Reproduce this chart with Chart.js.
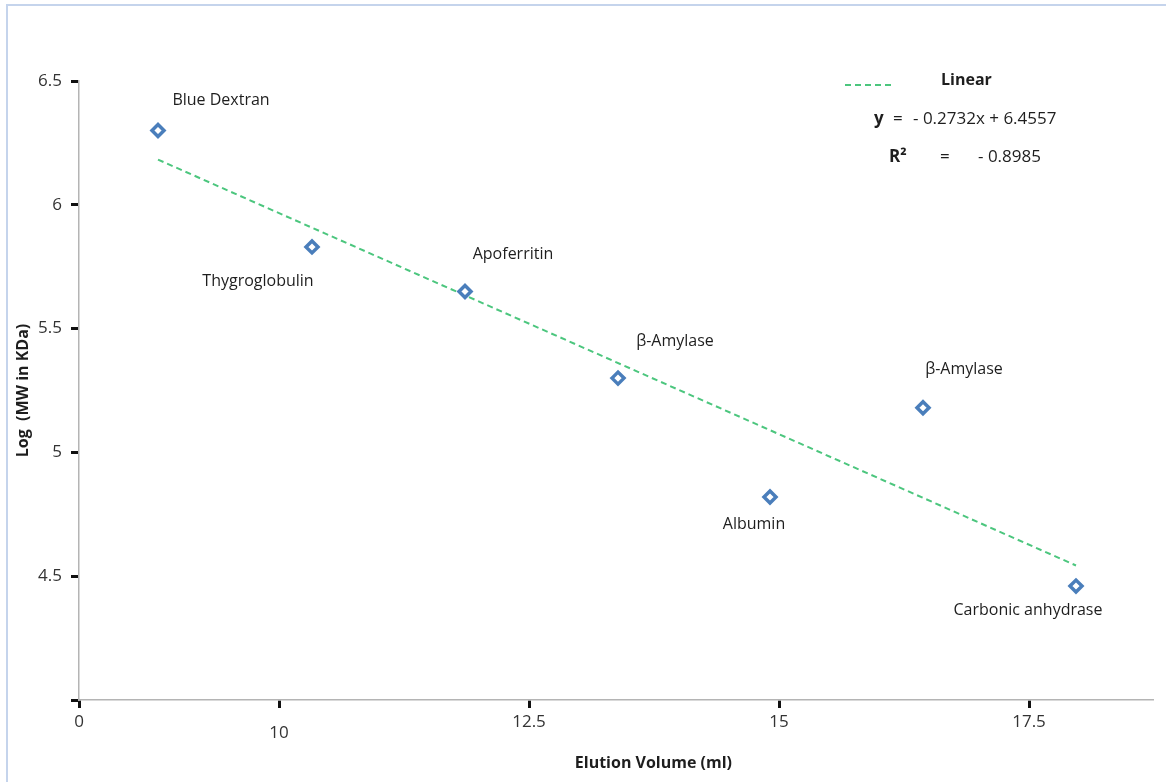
<!DOCTYPE html>
<html>
<head>
<meta charset="utf-8">
<title>Elution calibration</title>
<script src="https://cdn.jsdelivr.net/npm/chart.js@4/dist/chart.umd.min.js"></script>
<style>
  html, body { margin: 0; padding: 0; background: #ffffff; }
  #wrap { position: relative; width: 1166px; height: 782px; overflow: hidden; }
  #frame { position: absolute; left: 6px; top: 4px; right: -10px; bottom: -10px;
           border-top: 2px solid #c5d4ec; border-left: 2px solid #c5d4ec; }
  canvas { position: absolute; left: 0; top: 0; }
</style>
</head>
<body>
<div id="wrap">
  <div id="frame"></div>
  <canvas id="chart" width="1166" height="782"></canvas>
</div>
<script>
// Calibration proteins and their measured values
const proteins = ['Blue Dextran', 'Thygroglobulin', 'Apoferritin', 'β-Amylase', 'Albumin', 'β-Amylase', 'Carbonic anhydrase'];
const elutionVolume = [8.79, 10.33, 11.86, 13.39, 14.91, 16.44, 17.97];
const logMW = [6.30, 5.83, 5.65, 5.30, 4.82, 5.18, 4.46];

// Axis ticks
const xTickValues = [8, 10, 12.5, 15, 17.5];
const xTickLabels = ['0', '10', '12.5', '15', '17.5'];
const yTickValues = [4, 4.5, 5, 5.5, 6, 6.5];

// Linear fit (x = point number 1..n)
const fitSlope = -0.2732;
const fitIntercept = 6.4557;
const fitR2 = -0.8985;

// Where each protein name sits relative to its marker (px)
const labelOffsets = [[63, -30], [-54, 35], [48, -37], [57, -37], [-16, 27], [41, -38], [-48, 24]];

const FONT = "'Open Sans', 'DejaVu Sans', sans-serif";
const BLUE = '#4a7ebb';
const GREEN = '#4cc67e';

const points = proteins.map((_, i) => ({ x: elutionVolume[i], y: logMW[i] }));
const n = proteins.length;
const fitLine = [
  { x: elutionVolume[0], y: fitSlope * 1 + fitIntercept },
  { x: elutionVolume[n - 1], y: fitSlope * n + fitIntercept }
];

const pointLabels = {
  id: 'pointLabels',
  afterDatasetsDraw(chart) {
    const ctx = chart.ctx;
    const meta = chart.getDatasetMeta(0);
    ctx.save();
    ctx.font = '16px ' + FONT;
    ctx.fillStyle = '#1e1e1e';
    ctx.textAlign = 'center';
    ctx.textBaseline = 'middle';
    meta.data.forEach((el, i) => {
      const [dx, dy] = labelOffsets[i];
      ctx.fillText(proteins[i], el.x + dx, el.y + dy);
    });
    ctx.restore();
  }
};

const fitLegend = {
  id: 'fitLegend',
  afterDraw(chart) {
    const ctx = chart.ctx;
    ctx.save();
    // dashed sample
    ctx.strokeStyle = GREEN;
    ctx.lineWidth = 2;
    ctx.setLineDash([6, 4]);
    ctx.beginPath();
    ctx.moveTo(845, 85);
    ctx.lineTo(891, 85);
    ctx.stroke();
    ctx.setLineDash([]);

    ctx.fillStyle = '#1e1e1e';
    ctx.textBaseline = 'middle';
    ctx.textAlign = 'left';
    ctx.font = 'bold 16px ' + FONT;
    ctx.fillText('Linear', 941, 80);

    ctx.font = 'bold 17px ' + FONT;
    ctx.fillText('y', 874, 119);
    ctx.font = '17px ' + FONT;
    ctx.fillText('=', 893, 119);
    ctx.fillText('- ' + Math.abs(fitSlope).toFixed(4) + 'x + ' + fitIntercept.toFixed(4), 913, 119);

    ctx.font = 'bold 17px ' + FONT;
    ctx.fillText('R²', 889, 157);
    ctx.font = '17px ' + FONT;
    ctx.fillText('=', 940, 157);
    ctx.fillText('- ' + Math.abs(fitR2).toFixed(4), 978, 157);
    ctx.restore();
  }
};

new Chart(document.getElementById('chart'), {
  type: 'scatter',
  data: {
    datasets: [
      {
        label: 'Proteins',
        data: points,
        pointStyle: 'rectRot',
        pointRadius: 6,
        pointBorderWidth: 3.5,
        borderColor: BLUE,
        backgroundColor: '#ffffff',
        pointBackgroundColor: '#ffffff',
        pointBorderColor: BLUE
      },
      {
        type: 'line',
        label: 'Linear',
        data: fitLine,
        borderColor: GREEN,
        borderWidth: 2,
        borderDash: [6, 4],
        pointRadius: 0,
        fill: false,
        tension: 0
      }
    ]
  },
  options: {
    responsive: false,
    animation: false,
    devicePixelRatio: 1,
    layout: { padding: { top: 81, right: 13, bottom: 0, left: 0 } },
    plugins: {
      legend: { display: false },
      tooltip: { enabled: false }
    },
    scales: {
      x: {
        type: 'linear',
        min: 8,
        max: 18.74,
        afterFit(scale) { scale.height = 82; },
        afterBuildTicks(scale) { scale.ticks = xTickValues.map(v => ({ value: v })); },
        ticks: {
          padding: 4,
          color: '#333333',
          font(ctx) {
            if (ctx.tick && ctx.tick.value === 10) return { family: FONT, size: 17, lineHeight: '14px' };
            return { family: FONT, size: 17 };
          },
          callback(value) {
            const label = xTickLabels[xTickValues.indexOf(value)];
            return value === 10 ? ['', label] : label;
          }
        },
        grid: { drawOnChartArea: false, drawTicks: true, tickLength: 8, tickWidth: 3, tickColor: '#111111' },
        border: { display: true, color: '#b4b4b4', width: 1.5 },
        title: {
          display: true,
          text: '\u00a0'.repeat(18) + 'Elution Volume (ml)',
          color: '#1e1e1e',
          font: { family: FONT, size: 16, weight: 'bold' },
          padding: { top: 0, bottom: 9 }
        }
      },
      y: {
        type: 'linear',
        min: 4,
        max: 6.5,
        afterFit(scale) { scale.width = 79; },
        afterBuildTicks(scale) { scale.ticks = yTickValues.map(v => ({ value: v })); },
        ticks: {
          padding: 9,
          color: '#333333',
          font: { family: FONT, size: 17 },
          callback(value) { return value === 4 ? '' : String(value); }
        },
        grid: { drawOnChartArea: false, drawTicks: true, tickLength: 8, tickWidth: 3, tickColor: '#111111' },
        border: { display: true, color: '#b4b4b4', width: 1.5 },
        title: {
          display: true,
          text: 'Log  (MW in KDa)',
          color: '#1e1e1e',
          font: { family: FONT, size: 16, weight: 'bold' },
          padding: { top: 14, bottom: 0 }
        }
      }
    }
  },
  plugins: [pointLabels, fitLegend]
});
</script>
</body>
</html>
